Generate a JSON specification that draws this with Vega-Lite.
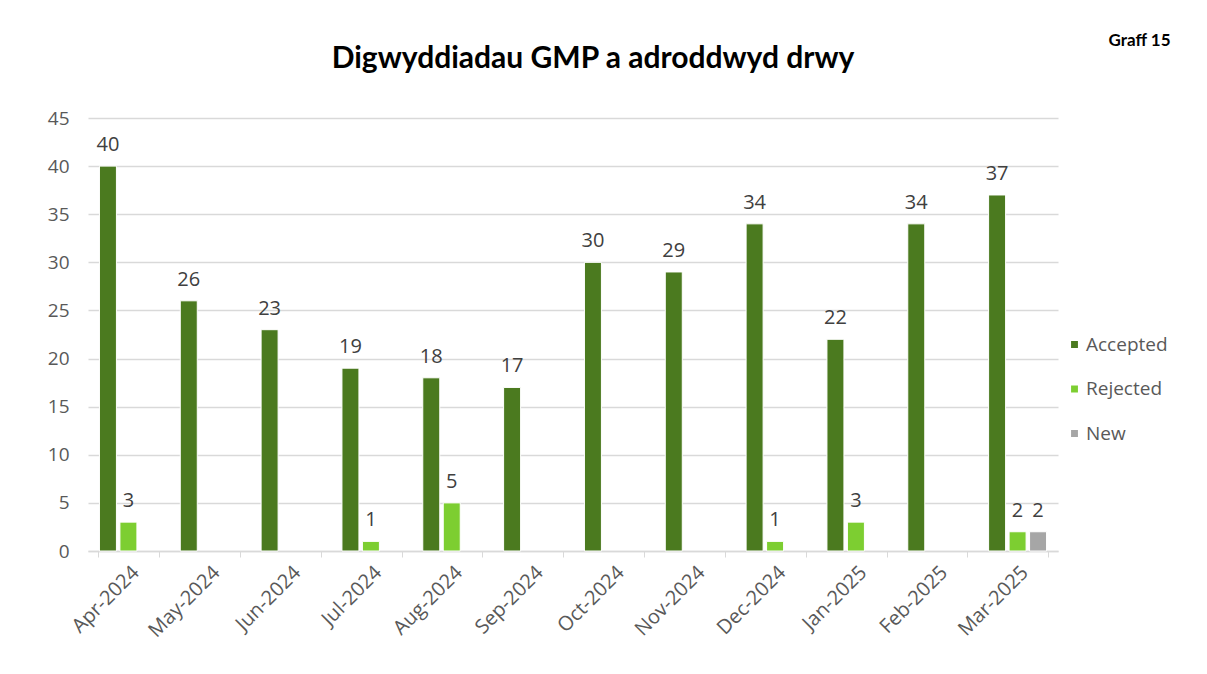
{
  "$schema": "https://vega.github.io/schema/vega-lite/v6.json",
  "width": 970,
  "height": 433,
  "autosize": {"type": "none"},
  "padding": {"left": 88, "top": 118, "right": 149, "bottom": 123},
  "background": "white",
  "title": {
    "text": "Digwyddiadau GMP a adroddwyd drwy",
    "font": "Lato",
    "fontSize": 30,
    "fontWeight": "bold",
    "color": "#000000",
    "anchor": "middle",
    "dx": 20,
    "dy": 43,
    "offset": 0
  },
  "data": {
    "values": [
      {"month": "Apr-2024", "status": "Accepted", "value": 40},
      {"month": "Apr-2024", "status": "Rejected", "value": 3},
      {"month": "Apr-2024", "status": "New", "value": 0},
      {"month": "May-2024", "status": "Accepted", "value": 26},
      {"month": "May-2024", "status": "Rejected", "value": 0},
      {"month": "May-2024", "status": "New", "value": 0},
      {"month": "Jun-2024", "status": "Accepted", "value": 23},
      {"month": "Jun-2024", "status": "Rejected", "value": 0},
      {"month": "Jun-2024", "status": "New", "value": 0},
      {"month": "Jul-2024", "status": "Accepted", "value": 19},
      {"month": "Jul-2024", "status": "Rejected", "value": 1},
      {"month": "Jul-2024", "status": "New", "value": 0},
      {"month": "Aug-2024", "status": "Accepted", "value": 18},
      {"month": "Aug-2024", "status": "Rejected", "value": 5},
      {"month": "Aug-2024", "status": "New", "value": 0},
      {"month": "Sep-2024", "status": "Accepted", "value": 17},
      {"month": "Sep-2024", "status": "Rejected", "value": 0},
      {"month": "Sep-2024", "status": "New", "value": 0},
      {"month": "Oct-2024", "status": "Accepted", "value": 30},
      {"month": "Oct-2024", "status": "Rejected", "value": 0},
      {"month": "Oct-2024", "status": "New", "value": 0},
      {"month": "Nov-2024", "status": "Accepted", "value": 29},
      {"month": "Nov-2024", "status": "Rejected", "value": 0},
      {"month": "Nov-2024", "status": "New", "value": 0},
      {"month": "Dec-2024", "status": "Accepted", "value": 34},
      {"month": "Dec-2024", "status": "Rejected", "value": 1},
      {"month": "Dec-2024", "status": "New", "value": 0},
      {"month": "Jan-2025", "status": "Accepted", "value": 22},
      {"month": "Jan-2025", "status": "Rejected", "value": 3},
      {"month": "Jan-2025", "status": "New", "value": 0},
      {"month": "Feb-2025", "status": "Accepted", "value": 34},
      {"month": "Feb-2025", "status": "Rejected", "value": 0},
      {"month": "Feb-2025", "status": "New", "value": 0},
      {"month": "Mar-2025", "status": "Accepted", "value": 37},
      {"month": "Mar-2025", "status": "Rejected", "value": 2},
      {"month": "Mar-2025", "status": "New", "value": 2}
    ]
  },
  "encoding": {
    "x": {
      "field": "month",
      "type": "nominal",
      "sort": null,
      "scale": {"paddingInner": 0.24, "paddingOuter": 0.12},
      "axis": {
        "title": null,
        "labelAngle": -45,
        "labelFont": "Open Sans",
        "labelFontSize": 20,
        "labelColor": "#595959",
        "labelPadding": 5,
        "tickBand": "extent",
        "tickColor": "#d9d9d9",
        "tickSize": 6,
        "domainColor": "#d9d9d9",
        "domainWidth": 1.5,
        "grid": false
      }
    },
    "xOffset": {
      "field": "status",
      "type": "nominal",
      "sort": ["Accepted", "Rejected", "New"],
      "scale": {"domain": ["Accepted", "Rejected", "New"], "paddingInner": 0.17, "paddingOuter": 0.085}
    },
    "y": {
      "field": "value",
      "type": "quantitative",
      "scale": {"domain": [0, 45]},
      "axis": {
        "title": "Graff 15",
        "titleAngle": 0,
        "titleX": 1051,
        "titleY": -78,
        "titleAlign": "center",
        "titleBaseline": "middle",
        "titleFont": "Lato",
        "titleFontSize": 17,
        "titleFontWeight": "bold",
        "titleColor": "#000000",
        "values": [0, 5, 10, 15, 20, 25, 30, 35, 40, 45],
        "labelFont": "Open Sans",
        "labelFontSize": 19,
        "labelColor": "#595959",
        "labelPadding": 19,
        "domain": false,
        "ticks": false,
        "gridColor": "#d9d9d9",
        "gridWidth": 1.5
      }
    }
  },
  "layer": [
    {
      "transform": [{"filter": "datum.value > 0"}],
      "mark": {"type": "bar", "stroke": "white", "strokeWidth": 1},
      "encoding": {
        "color": {
          "field": "status",
          "type": "nominal",
          "scale": {"domain": ["Accepted", "Rejected", "New"], "range": ["#4B7A1F", "#7DCE31", "#A6A6A6"]},
          "legend": {
            "title": null,
            "orient": "none",
            "legendX": 977,
            "legendY": 217,
            "symbolType": "square",
            "symbolSize": 70,
            "labelFont": "Open Sans",
            "labelFontSize": 19,
            "labelColor": "#595959",
            "labelOffset": 2,
            "rowPadding": 24.5
          }
        }
      }
    },
    {
      "transform": [{"filter": "datum.value > 0"}],
      "mark": {"type": "text", "baseline": "bottom", "dy": -11, "font": "Open Sans", "fontSize": 20, "color": "#404040"},
      "encoding": {
        "text": {"field": "value", "type": "quantitative"}
      }
    }
  ],
  "config": {
    "view": {"stroke": null}
  }
}
